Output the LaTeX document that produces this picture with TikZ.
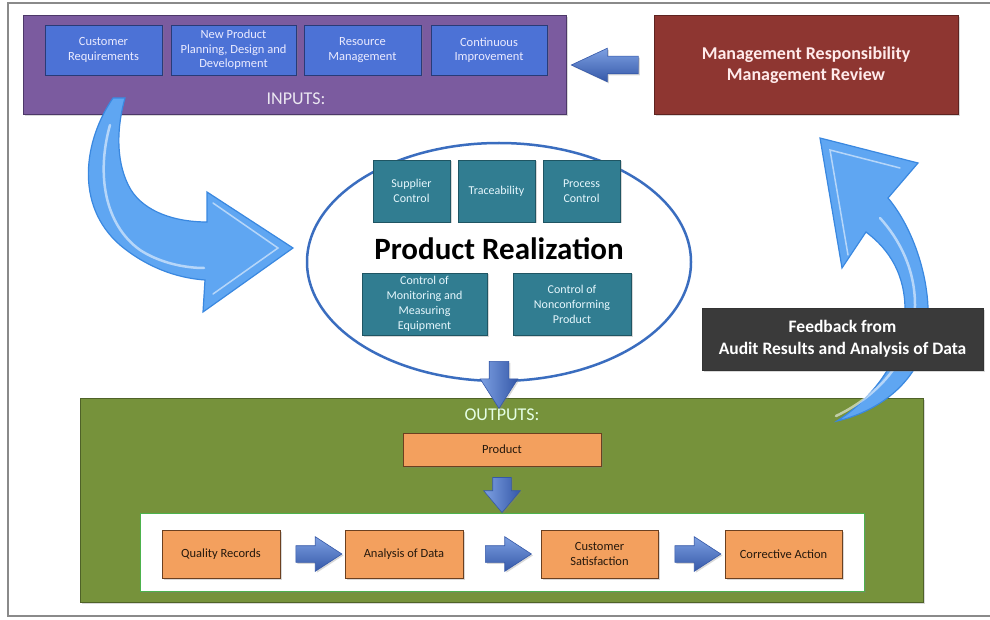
\documentclass[tikz,border=0pt]{standalone}
\usepackage{fontspec}
\setmainfont{Carlito}
\usetikzlibrary{shapes.arrows,shapes.geometric,calc,shadows}
\definecolor{purp}{HTML}{7B5B9F}
\definecolor{purpd}{HTML}{4C3868}
\definecolor{inblue}{HTML}{4C72D6}
\definecolor{inblued}{HTML}{283B78}
\definecolor{mred}{HTML}{8E3631}
\definecolor{mredd}{HTML}{5E2320}
\definecolor{tealbox}{HTML}{317D91}
\definecolor{tealboxd}{HTML}{1F5563}
\definecolor{fbgray}{HTML}{3A3A3A}
\definecolor{ogreen}{HTML}{76923B}
\definecolor{ogreend}{HTML}{4F6228}
\definecolor{orangebox}{HTML}{F3A05E}
\definecolor{orangeboxd}{HTML}{6B4020}
\definecolor{ellblue}{HTML}{3A6DBF}
\definecolor{carrow}{HTML}{5FA6F2}
\definecolor{carrowd}{HTML}{3A88E0}
\definecolor{barrowl}{HTML}{7DA0E2}
\definecolor{barrowd}{HTML}{3558A8}
\definecolor{framegray}{HTML}{8A8A8A}
\tikzset{
  shad/.style={drop shadow={opacity=.3,shadow xshift=1.5pt,shadow yshift=-1.5pt}},
  inbox/.style={rectangle,fill=inblue,draw=inblued,line width=.8pt,minimum height=50pt,
    align=center,text=white!92!blue,font=\fontsize{12.5}{14.5}\selectfont,inner sep=1pt,shad},
  tbox/.style={rectangle,fill=tealbox,draw=tealboxd,line width=.8pt,minimum height=62pt,
    align=center,text=white!90!cyan,font=\fontsize{12}{15}\selectfont,inner sep=1pt,shad},
  obox/.style={rectangle,fill=orangebox,draw=orangeboxd,line width=.8pt,minimum height=48pt,
    minimum width=118pt,align=center,text=black!80!brown,font=\fontsize{12.5}{15}\selectfont,inner sep=1pt,shad},
  barrow/.style={single arrow,inner sep=0pt,draw=barrowd,line width=.6pt,shad},
  hbarrow/.style={barrow,top color=barrowl,bottom color=barrowd},
  vbarrow/.style={barrow,left color=barrowl,right color=barrowd,shape border rotate=270},
  carrowsty/.style={fill=carrow,draw=carrowd,line width=1.2pt,line join=miter},
  highlight/.style={draw=white,opacity=.55,line width=2.5pt,line cap=round},
}
\begin{document}
\begin{tikzpicture}[x=1pt,y=-1pt]
\useasboundingbox (0,0) rectangle (990,620);
% outer frame
\draw[framegray,line width=1.3pt] (8,3) rectangle (994,616);

% ---------- INPUTS ----------
\node[rectangle,fill=purp,draw=purpd,line width=.8pt,minimum width=543pt,minimum height=99pt,shad] (inputs) at (295,65) {};
\node[text=white!85!purp,font=\fontsize{18}{20}\selectfont] (inlabel) at (296,99) {INPUTS:};
\node[inbox,minimum width=117pt] (cr) at (103.5,50) {Customer\\Requirements};
\node[inbox,minimum width=125pt] (np) at (233.5,50) {New Product\\Planning, Design and\\Development};
\node[inbox,minimum width=117pt] (rm) at (362.5,50) {Resource\\Management};
\node[inbox,minimum width=116pt] (ci) at (489,50) {Continuous\\Improvement};

% ---------- MANAGEMENT ----------
\node[rectangle,fill=mred,draw=mredd,line width=.8pt,minimum width=304pt,minimum height=99pt,shad,
  align=center,text=white!92!red,font=\bfseries\fontsize{18}{21}\selectfont] (mgmt) at (806,65)
  {Management Responsibility\\Management Review};
\node[hbarrow,shape border rotate=180,minimum height=67pt,inner ysep=8.5pt,
  single arrow head extend=8pt,single arrow tip angle=50] (a1) at ($(mgmt.west)!0.5!(inputs.east)+(4,0)$) {};

% ---------- PRODUCT REALIZATION ----------
\node[ellipse,draw=ellblue,line width=2.5pt,fill=white,minimum width=384pt,minimum height=238pt] (ell) at (499,262) {};
\node[tbox,minimum width=77pt] (sc) at (411.5,191) {Supplier\\Control};
\node[tbox,minimum width=77pt] (tr) at (496.5,191) {Traceability};
\node[tbox,minimum width=77pt] (pc) at (581.5,191) {Process\\Control};
\node[font=\bfseries\fontsize{31}{34}\selectfont] (prt) at (499,249) {Product Realization};
\node[tbox,minimum width=125pt] (cm) at (424.5,304) {Control of\\Monitoring and\\Measuring\\Equipment};
\node[tbox,minimum width=118pt] (cn) at (572,304) {Control of\\Nonconforming\\Product};

% left curved arrow (inputs -> product realization)
\path[carrowsty] (113,98) .. controls (84,140) and (74,205) .. (120,245)
  .. controls (145,266) and (175,278) .. (205,280) -- (203,312) -- (293,248) -- (207,192) -- (207,222)
  .. controls (175,222) and (145,212) .. (131,190) .. controls (116,165) and (116,130) .. (125,98) -- cycle;
\draw[highlight] (110,125) .. controls (96,175) and (105,225) .. (140,250) .. controls (160,263) and (185,268) .. (204,268);
\draw[highlight,line width=1.5pt] (213,203) -- (278,248) -- (213,294);

% ---------- OUTPUTS ----------
\node[rectangle,fill=ogreen,draw=ogreend,line width=.8pt,minimum width=843pt,minimum height=204pt,shad] (outputs) at (501.5,500) {};
\node[text=white!90!green,font=\fontsize{18}{20}\selectfont] (outlabel) at (502,415) {OUTPUTS:};
\node[obox,minimum width=198pt,minimum height=33pt] (prod) at (502,449.5) {Product};
\node[rectangle,fill=white,draw=gray!60!green,line width=.8pt,minimum width=724pt,minimum height=78pt,shad] (wbox) at (502,552) {};
\node[obox] (qr) at (221,554) {Quality Records};
\node[obox] (ad) at (404,554) {Analysis of Data};
\node[obox,minimum width=117pt] (cs) at (599.5,554) {Customer\\Satisfaction};
\node[obox,minimum width=117pt] (ca) at (783.5,554) {Corrective Action};
\foreach \a/\b/\n in {qr/ad/h1,ad/cs/h2,cs/ca/h3}{
  \node[hbarrow,minimum height=46pt,inner ysep=8pt,single arrow head extend=9pt,single arrow tip angle=66] (\n) at ($(\a.east)!0.5!(\b.west)$) {};
}
\node[vbarrow,minimum height=35pt,inner sep=9pt,single arrow head extend=9pt,single arrow tip angle=80] (a3) at ($(prod.south)!0.5!(wbox.north)$) {};

% down arrow from product realization to outputs
\node[vbarrow,minimum height=47pt,inner sep=9.5pt,single arrow head extend=9pt,single arrow tip angle=65] (a2) at ($(ell.south)+(0,-5)$) {};

% right curved arrow (feedback -> management)
\path[carrowsty] (820,138) -- (918,163) -- (888,198) .. controls (915,230) and (935,290) .. (926,340)
  .. controls (916,385) and (876,412) .. (837,421) .. controls (870,400) and (905,360) .. (905,310)
  .. controls (905,275) and (890,250) .. (866,232) -- (842,268) -- cycle;
\draw[highlight] (836,416) .. controls (880,395) and (915,355) .. (915,305) .. controls (915,270) and (900,240) .. (880,218);
\draw[highlight,line width=1.5pt] (848,255) -- (830,150) -- (900,168);

% feedback box
\node[rectangle,fill=fbgray,draw=black!80,line width=.6pt,minimum width=281pt,minimum height=62pt,shad,
  align=center,text=white!92,font=\bfseries\fontsize{17.5}{22}\selectfont] (fb) at (842.5,339)
  {Feedback from\\Audit Results and Analysis of Data};
\end{tikzpicture}
\end{document}
